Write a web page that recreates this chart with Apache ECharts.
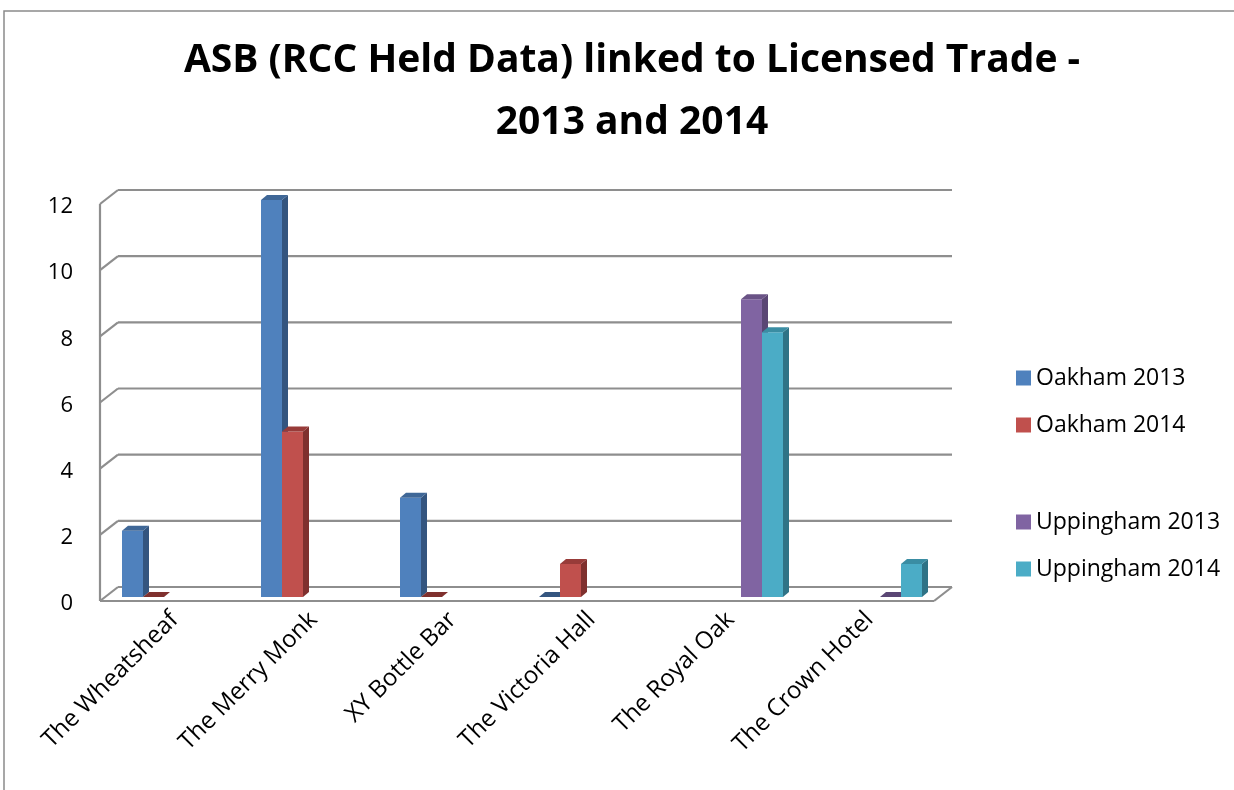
<!DOCTYPE html>
<html>
<head>
<meta charset="utf-8">
<script src="https://cdn.jsdelivr.net/npm/echarts@6/dist/echarts.min.js"></script>
<style>
html,body{margin:0;padding:0;background:#fff;}
#chart{width:1234px;height:790px;}
</style>
</head>
<body>
<div id="chart"></div>
<script>
// ---- data ----
const categories = ['The Wheatsheaf', 'The Merry Monk', 'XY Bottle Bar', 'The Victoria Hall', 'The Royal Oak', 'The Crown Hotel'];
const oakham2013 = [2, 12, 3, 0, null, null];
const oakham2014 = [0, 5, 0, 1, null, null];
const uppingham2013 = [null, null, null, null, 9, 0];
const uppingham2014 = [null, null, null, null, 8, 1];
const yTicks = [0, 2, 4, 6, 8, 10, 12];
const seriesNames = ['Oakham 2013', 'Oakham 2014', 'Uppingham 2013', 'Uppingham 2014'];

// ---- styles ----
const FONT = 'Open Sans';
const colors = ['#4F81BD', '#C0504D', '#8064A2', '#4BACC6'];
const sideColors = ['#34557F', '#7F302E', '#5A4674', '#2F7386'];
const topColors = ['#3F6797', '#983B39', '#6A5386', '#3A8DA3'];
const slots = [0, 1, 3, 4];      // slot 2 is the blank series in the original
const SLOT_COUNT = 5;
const BAR_FRAC = 21 / 139;
const DX = 6, DY = -5;           // bar depth
const FRONT = [-5, 4], BACK = [13, -10];
const GRID_COLOR = '#8E8E8E';

function toData(arr) {
  const out = [];
  arr.forEach((v, i) => { if (v !== null) out.push([i, v]); });
  return out;
}

function barRender(k) {
  return function (params, api) {
    const cat = api.value(0);
    const v = api.value(1);
    const base = api.coord([cat, 0]);
    const tp = api.coord([cat, v]);
    const band = api.size([1, 0])[0];
    const w = band * BAR_FRAC;
    const x0 = base[0] - (SLOT_COUNT / 2) * w + slots[k] * w;
    const x1 = x0 + w;
    const yb = base[1], yt = tp[1];
    const children = [];
    if (yb - yt > 0.5) {
      children.push({ type: 'polygon', shape: { points: [[x1, yt], [x1 + DX, yt + DY], [x1 + DX, yb + DY], [x1, yb]] }, style: { fill: sideColors[k] } });
      children.push({ type: 'rect', shape: { x: x0, y: yt, width: w, height: yb - yt }, style: { fill: colors[k] } });
    }
    children.push({ type: 'polygon', shape: { points: [[x0, yt], [x0 + DX, yt + DY], [x1 + DX, yt + DY], [x1, yt]] }, style: { fill: yb - yt > 0.5 ? topColors[k] : sideColors[k] } });
    return { type: 'group', children: children };
  };
}

function frameRender(params, api) {
  const v = api.value(0);
  const band = api.size([1, 0])[0];
  const p = api.coord([0, v]);
  const L = p[0] - band / 2;
  const R = L + band * categories.length;
  const y = p[1];
  const st = { stroke: GRID_COLOR, lineWidth: 2.2, fill: null };
  const ch = [
    { type: 'line', shape: { x1: L + FRONT[0], y1: y + FRONT[1], x2: L + BACK[0], y2: y + BACK[1] }, style: st },
    { type: 'line', shape: { x1: L + BACK[0], y1: y + BACK[1], x2: R + BACK[0], y2: y + BACK[1] }, style: st }
  ];
  if (v === 0) {
    const top = api.coord([0, yTicks[yTicks.length - 1]])[1];
    ch.push({ type: 'line', shape: { x1: L + FRONT[0], y1: y + FRONT[1], x2: L + FRONT[0], y2: top + FRONT[1] }, style: st });
    ch.push({ type: 'line', shape: { x1: L + FRONT[0], y1: y + FRONT[1], x2: R + FRONT[0], y2: y + FRONT[1] }, style: st });
    ch.push({ type: 'line', shape: { x1: R + FRONT[0], y1: y + FRONT[1], x2: R + BACK[0], y2: y + BACK[1] }, style: st });
  }
  return { type: 'group', children: ch };
}

const seriesData = [oakham2013, oakham2014, uppingham2013, uppingham2014];
const series = [{
  type: 'custom',
  name: 'frame',
  renderItem: frameRender,
  data: yTicks.map(t => [t]),
  encode: { y: 0 },
  z: 1,
  silent: true
}];
seriesData.forEach((arr, k) => {
  series.push({
    type: 'custom',
    name: seriesNames[k],
    renderItem: barRender(k),
    data: toData(arr),
    encode: { x: 0, y: 1 },
    itemStyle: { color: colors[k] },
    z: 2 + k
  });
});

const legendCommon = {
  orient: 'vertical',
  left: 1011,
  icon: 'rect',
  itemWidth: 15,
  itemHeight: 15,
  itemGap: 23,
  textStyle: { fontFamily: FONT, fontSize: 23, color: '#000', lineHeight: 24 },
  selectedMode: false
};

const chart = echarts.init(document.getElementById('chart'));
chart.setOption({
  animation: false,
  backgroundColor: '#fff',
  title: {
    text: 'ASB (RCC Held Data) linked to Licensed Trade -\n2013 and 2014',
    left: 627,
    top: 25,
    textAlign: 'center',
    textStyle: { fontFamily: FONT, fontSize: 39, fontWeight: 'bold', color: '#000', lineHeight: 62 }
  },
  legend: [
    Object.assign({}, legendCommon, { top: 361, data: [seriesNames[0], seriesNames[1]] }),
    Object.assign({}, legendCommon, { top: 505, data: [seriesNames[2], seriesNames[3]] })
  ],
  grid: { left: 105, right: 295, top: 200, bottom: 193, containLabel: false },
  xAxis: {
    type: 'category',
    data: categories,
    axisLine: { show: false },
    axisTick: { show: false },
    axisLabel: { rotate: 45, margin: 19, fontFamily: FONT, fontSize: 24, color: '#000', interval: 0 }
  },
  yAxis: {
    type: 'value',
    min: 0,
    max: 12,
    interval: 2,
    axisLine: { show: false },
    axisTick: { show: false },
    splitLine: { show: false },
    axisLabel: { margin: 32, fontFamily: FONT, fontSize: 22, color: '#000', verticalAlign: 'top', lineHeight: 14 }
  },
  graphic: [{
    type: 'rect',
    shape: { x: 4, y: 11, width: 1400, height: 1000 },
    style: { fill: null, stroke: '#8A8A8A', lineWidth: 1.5 },
    silent: true,
    z: 0
  }],
  series: series
});
</script>
</body>
</html>
